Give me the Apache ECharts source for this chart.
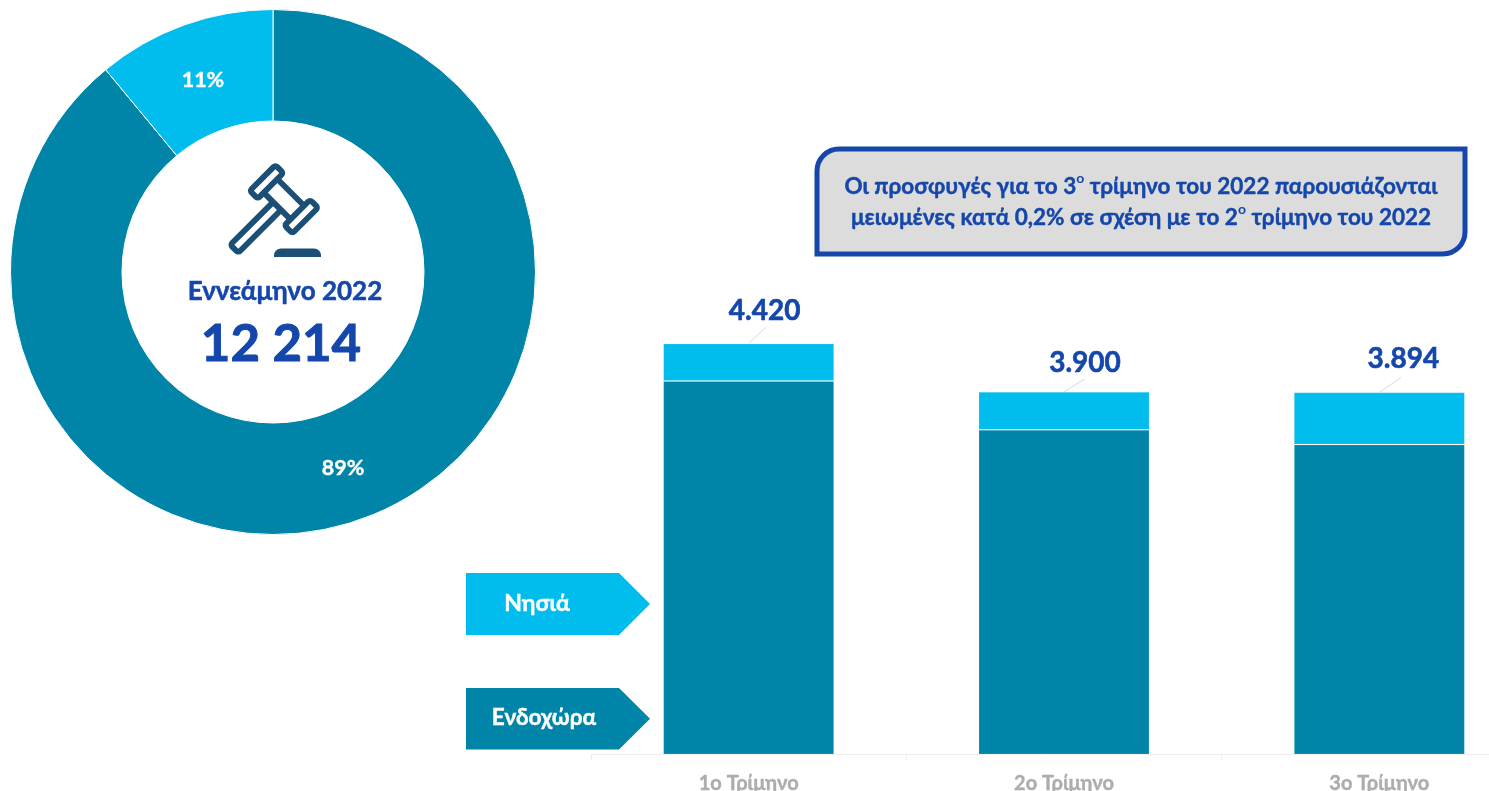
<!DOCTYPE html>
<html><head><meta charset="utf-8">
<style>html,body{margin:0;padding:0;background:#fff;overflow:hidden}#c{width:1489px;height:791px}</style>
<script src="https://cdn.jsdelivr.net/npm/echarts@6/dist/echarts.min.js"></script>
</head><body><div id="c"></div>
<script>
const quarters = ['1ο Τρίμηνο','2ο Τρίμηνο','3ο Τρίμηνο'];
const mainland = [4017,3491,3333];
const islands = [403,409,561];
const totals = ['4.420','3.900','3.894'];
const mainlandName = 'Ενδοχώρα';
const islandsName = 'Νησιά';
const donutNames = [mainlandName, islandsName];
const donutValues = [89,11];
const centerTitle = 'Εννεάμηνο 2022';
const centerValue = '12 214';

const TEAL='#0085A8', CYAN='#00BDEE', BLUE='#1446AB', NAVY='#1B4F75', FONT='Lato, Carlito, sans-serif';
const LABEL_SHIFT=[[16,-32],[21,-29],[24,-33]];
const LEADER_END=[[17,-16],[21,-13],[22,-15]];
const PIE_SHIFT=[[-1,-1],[1,5]];
const chart = echarts.init(document.getElementById('c'),null,{renderer:'canvas'});

function rr(x,y,w,h){const s=5.8;return {type:'rect',shape:{x:x+s/2,y:y+s/2,width:w-s,height:h-s,r:2.5},style:{fill:'#fff',stroke:NAVY,lineWidth:s}};}
function pent(y,h,fill){return {type:'polygon',shape:{points:[[466,y],[619,y],[650,y+h/2],[619,y+h],[466,y+h]]},style:{fill}};}
function txt(x,y,t,size,fill,bw){return {type:'text',x,y,style:{text:t,fill,stroke:fill,lineWidth:bw,font:`bold ${size}px ${FONT}`,align:'center',verticalAlign:'middle'}};}

chart.setOption({
 animation:false,backgroundColor:'#fff',
 grid:{left:591,top:289.5,width:946,height:465,containLabel:false,outerBoundsMode:'none'},
 xAxis:{type:'category',data:quarters,
  axisLine:{show:true,lineStyle:{color:'#EDEDED',width:1}},
  axisTick:{show:true,length:6,lineStyle:{color:'#EDEDED'}},
  axisLabel:{color:'#ADADAD',fontFamily:FONT,fontWeight:'bold',fontSize:20,margin:19,interval:0,textBorderColor:'#ADADAD',textBorderWidth:0.4}},
 yAxis:{type:'value',min:0,max:5000,show:false,splitLine:{show:false}},
 series:[
  {type:'pie',center:[273,272],radius:[151,262.5],startAngle:90,clockwise:true,
   data:donutNames.map((n,i)=>({name:n,value:donutValues[i],itemStyle:{color:[TEAL,CYAN][i]}})),
   itemStyle:{borderColor:'#fff',borderWidth:1},
   label:{position:'inside',color:'#fff',fontFamily:FONT,fontWeight:'bold',fontSize:21.5,formatter:p=>p.value+'%',textBorderColor:'#fff',textBorderWidth:0.4},
   labelLayout:p=>({dx:PIE_SHIFT[p.dataIndex][0],dy:PIE_SHIFT[p.dataIndex][1]}),
   labelLine:{show:false},emphasis:{disabled:true}},
  {type:'bar',name:mainlandName,stack:'a',data:mainland,barWidth:171,itemStyle:{color:TEAL,borderColor:'rgba(255,255,255,.15)',borderWidth:1}},
  {type:'bar',name:islandsName,stack:'a',data:islands,barWidth:171,itemStyle:{color:CYAN,borderColor:'rgba(255,255,255,.15)',borderWidth:1},
   label:{show:true,position:'top',distance:0,formatter:p=>totals[p.dataIndex],color:BLUE,fontFamily:FONT,fontWeight:'bold',fontSize:28,verticalAlign:'middle',textBorderColor:BLUE,textBorderWidth:0.6},
   labelLayout:p=>({dx:LABEL_SHIFT[p.dataIndex][0],dy:LABEL_SHIFT[p.dataIndex][1]})},
  {type:'custom',silent:true,z:3,data:quarters.map((q,i)=>[i,mainland[i]+islands[i]]),
   renderItem:(params,api)=>{
     const p=api.coord([api.value(0),api.value(1)]),e=LEADER_END[params.dataIndex];
     return {type:'line',shape:{x1:p[0],y1:p[1],x2:p[0]+e[0],y2:p[1]+e[1]},style:{stroke:'#D9D9D9',lineWidth:1}};
   }}
 ],
 graphic:[
  {type:'rect',shape:{x:817,y:149,width:648,height:105,r:[22,0,22,0]},style:{fill:'#DCDCDC',stroke:BLUE,lineWidth:5}},
  {type:'text',x:1141,y:202.5,style:{
    rich:{b:{fill:BLUE,stroke:BLUE,lineWidth:0.4,font:`bold 22.5px ${FONT}`,lineHeight:31},s:{fill:BLUE,font:`bold 14px ${FONT}`,lineHeight:31,verticalAlign:'top'}},
    text:'{b|Οι προσφυγές για το 3}{s|ο}{b| τρίμηνο του 2022 παρουσιάζονται}\n{b|μειωμένες κατά 0,2% σε σχέση με το 2}{s|ο}{b| τρίμηνο του 2022}',
    align:'center',verticalAlign:'middle'}},
  pent(573,62,CYAN),pent(688,61.5,TEAL),
  txt(537,604,islandsName,23,'#fff',0.4),txt(544,718,mainlandName,22.6,'#fff',0.4),
  txt(285,292,centerTitle,26,BLUE,0.5),txt(281,345,centerValue,51,BLUE,0.9),
  {type:'group',x:283.9,y:199.2,rotation:Math.PI/4,children:[
    rr(-73,-8.5,68,17),
    rr(-12.5,-24,25,48),
    rr(-21,-33,42,17),
    rr(-21,16,42,17)
  ]},
  {type:'rect',shape:{x:274,y:248.5,width:47,height:8.5,r:[7,7,0,0]},style:{fill:NAVY}}
 ]
});
</script></body></html>
